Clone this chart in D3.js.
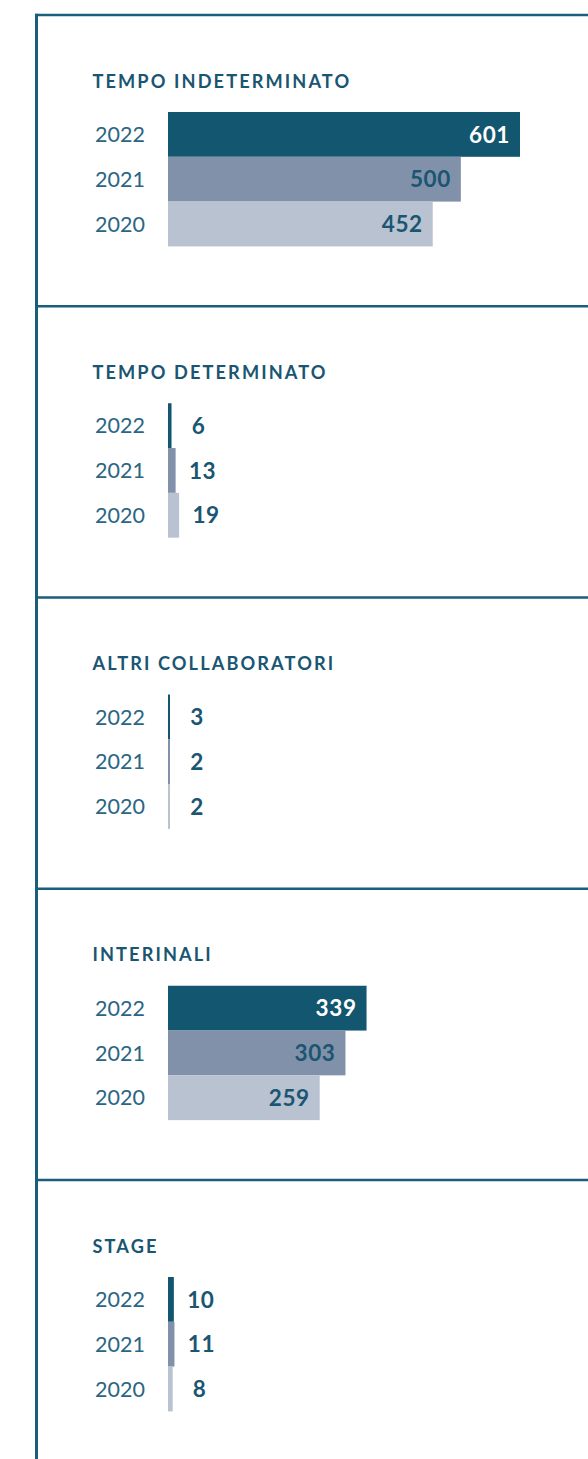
<!DOCTYPE html>
<html>
<head>
<meta charset="utf-8">
<script src="https://cdn.jsdelivr.net/npm/d3@7"></script>
<style>
  html, body { margin: 0; padding: 0; background: #fff; }
  svg { display: block; }
</style>
</head>
<body>
<svg id="chart" width="588" height="1459"></svg>
<script>
const categories = ["TEMPO INDETERMINATO", "TEMPO DETERMINATO", "ALTRI COLLABORATORI", "INTERINALI", "STAGE"];
const years = ["2022", "2021", "2020"];
const values2022 = [601, 6, 3, 339, 10];
const values2021 = [500, 13, 2, 303, 11];
const values2020 = [452, 19, 2, 259, 8];

const W = 588, H = 1459;
const frameLeft = 36.5, frameTop = 15;
const panelH = 291.25;
const barX0 = 168;
const barH = 44.8;
const yearColors = ["#13566f", "#8191a9", "#b8c2d1"];
const lineColor = "#1b5d7c";
const textColor = "#1a5572";

const svg = d3.select("#chart");
const x = d3.scaleLinear().domain([0, 601]).range([0, 352]);
const yBand = d3.scaleBand().domain(years).range([0, barH * 3]).padding(0);

const seriesByYear = [values2022, values2021, values2020];

// frame lines
svg.append("line").attr("x1", frameLeft).attr("x2", frameLeft).attr("y1", frameTop - 1.3).attr("y2", H)
  .attr("stroke", lineColor).attr("stroke-width", 3);
categories.forEach((c, i) => {
  const y = frameTop + i * panelH;
  svg.append("line").attr("x1", frameLeft - 1.5).attr("x2", W).attr("y1", y).attr("y2", y)
    .attr("stroke", lineColor).attr("stroke-width", 2.5);
});

categories.forEach((cat, i) => {
  const top = frameTop + i * panelH;
  const g = svg.append("g").attr("transform", `translate(0,${top})`);
  g.append("text").attr("x", 92.5).attr("y", 72.5)
    .attr("font-family", "Lato, 'DejaVu Sans', sans-serif").attr("font-weight", 700)
    .attr("font-size", 18.2).attr("letter-spacing", 2.1)
    .attr("fill", textColor).text(cat);

  const bars = g.append("g").attr("transform", `translate(0,97)`);
  years.forEach((yr, j) => {
    const v = seriesByYear[j][i];
    const y0 = yBand(yr);
    const w = Math.max(2, x(v));
    const cy = y0 + yBand.bandwidth() / 2;
    bars.append("text").attr("x", 95).attr("y", cy).attr("dy", "0.36em")
      .attr("font-family", "Lato, 'DejaVu Sans', sans-serif").attr("font-weight", 400)
      .attr("font-size", 21.5).attr("fill", "#2a6583").text(yr);
    bars.append("rect").attr("x", barX0).attr("y", y0).attr("width", w).attr("height", yBand.bandwidth())
      .attr("fill", yearColors[j]);
    const inside = w > 60;
    bars.append("text")
      .attr("x", inside ? barX0 + w - 10 : barX0 + w + 27)
      .attr("y", cy).attr("dy", "0.36em")
      .attr("text-anchor", inside ? "end" : "middle")
      .attr("font-family", "Lato, 'DejaVu Sans', sans-serif").attr("font-weight", 700)
      .attr("font-size", 22.5).attr("letter-spacing", 0.6)
      .attr("fill", inside && j === 0 ? "#ffffff" : textColor)
      .text(v);
  });
});
</script>
</body>
</html>
